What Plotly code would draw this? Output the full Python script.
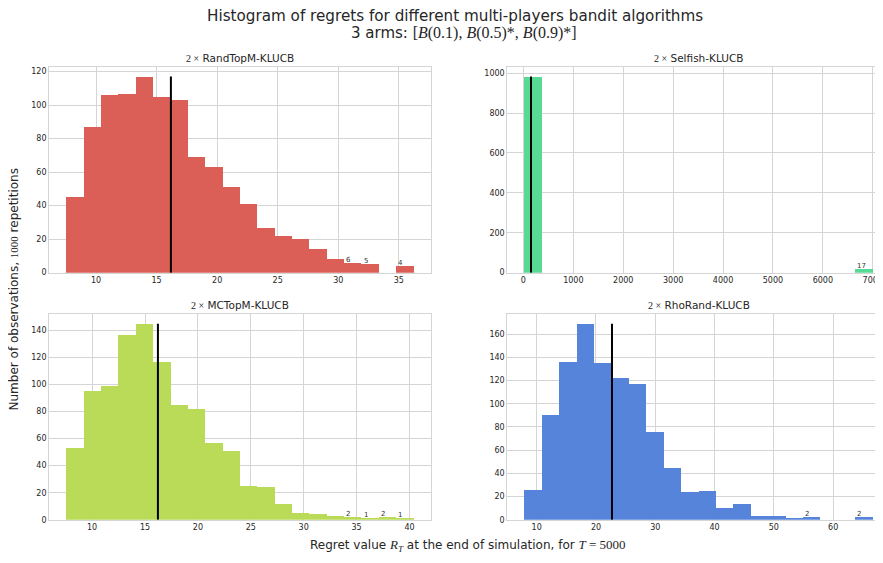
import plotly.graph_objects as go

# ---- data (20-bin histograms, 1000 repetitions) ----
algorithms = ["RandTopM-KLUCB", "Selfish-KLUCB", "MCTopM-KLUCB", "RhoRand-KLUCB"]
colors = ["#db5f57", "#57db94", "#b9db57", "#5784db"]

randtopm_counts = [45, 87, 106, 107, 117, 105, 103, 69, 63, 51, 41, 27, 22, 20, 14, 8, 6, 5, 0, 4]
randtopm_start, randtopm_width = 7.56, 1.4335
randtopm_mean = 16.18

selfish_counts = [983, 0, 0, 0, 0, 0, 0, 0, 0, 0, 0, 0, 0, 0, 0, 0, 0, 0, 0, 17]
selfish_start, selfish_width = 26.0, 348.85
selfish_mean = 152.0

mctopm_counts = [53, 95, 99, 137, 145, 117, 85, 82, 57, 51, 25, 24, 12, 5, 4, 3, 2, 1, 2, 1]
mctopm_start, mctopm_width = 7.58, 1.641
mctopm_mean = 16.22

rhorand_counts = [26, 90, 136, 169, 135, 122, 117, 76, 45, 24, 25, 10, 14, 3, 3, 1, 2, 0, 0, 2]
rhorand_start, rhorand_width = 7.98, 2.936
rhorand_mean = 22.7

panels = [
    (randtopm_counts, randtopm_start, randtopm_width, randtopm_mean),
    (selfish_counts, selfish_start, selfish_width, selfish_mean),
    (mctopm_counts, mctopm_start, mctopm_width, mctopm_mean),
    (rhorand_counts, rhorand_start, rhorand_width, rhorand_mean),
]
x_dticks = [5, 1000, 5, 10]
y_dticks = [20, 200, 20, 20]

W, H = 883, 563
OFF = 8  # page body margin compensation
MATH = "Liberation Serif"
# pixel boxes in window coordinates (left, right_full, top, bottom)
boxes = [
    (49.3, 432.5, 67.3, 275.0),
    (509.0, 893.3, 67.3, 275.0),
    (49.3, 432.5, 316.7, 524.3),
    (509.0, 893.3, 316.7, 524.3),
]


def px(x):
    return (x - OFF) / W


def py(y):
    return 1 - (y - OFF) / H


fig = go.Figure()
GRID = "#d5d5d5"
TICKC = "#262626"
FONT = "DejaVu Sans"

for i, ((counts, start, width, mean), box) in enumerate(zip(panels, boxes)):
    n = i + 1
    xa = "x" if n == 1 else f"x{n}"
    ya = "y" if n == 1 else f"y{n}"
    edges = [start + k * width for k in range(len(counts) + 1)]
    centers = [(edges[k] + edges[k + 1]) / 2 for k in range(len(counts))]
    fig.add_trace(go.Bar(x=centers, y=counts, width=[width] * len(counts),
                         marker=dict(color=colors[i], line=dict(width=0)),
                         xaxis=xa, yaxis=ya, showlegend=False))
    top = max(counts)
    fig.add_trace(go.Scatter(x=[mean, mean], y=[0, top], mode="lines",
                             line=dict(color="black", width=2),
                             xaxis=xa, yaxis=ya, showlegend=False))
    # small count labels on the last bins
    for k in range(len(counts) - 4, len(counts)):
        if counts[k] > 0:
            fig.add_annotation(x=edges[k], y=counts[k], xref=xa, yref=ya,
                               text=str(counts[k]), showarrow=False,
                               xanchor="left", yanchor="middle", yshift=3, xshift=0,
                               font=dict(family=FONT, size=7, color="#333333"))
    span = edges[-1] - edges[0]
    lo, hi = edges[0] - 0.05 * span, edges[-1] + 0.05 * span
    l, r, t, b = box
    r_vis = min(r, W)
    hi_vis = lo + (hi - lo) * (r_vis - l) / (r - l)
    axis_common = dict(showgrid=True, gridcolor=GRID, gridwidth=1,
                       showline=True, linecolor=GRID, linewidth=1, mirror=True,
                       zeroline=False, ticks="", ticklabeloverflow="allow",
                       tickfont=dict(family=FONT, size=8, color=TICKC))
    fig.layout[("xaxis" if n == 1 else f"xaxis{n}")] = dict(
        domain=[px(l), min(px(r_vis), 1.0)], range=[lo, hi_vis], anchor=ya,
        tick0=0, dtick=x_dticks[i], **axis_common)
    fig.layout[("yaxis" if n == 1 else f"yaxis{n}")] = dict(
        domain=[py(b), py(t)], range=[0, top * 1.05], anchor=xa,
        tick0=0, dtick=y_dticks[i], **axis_common)
    # subplot title
    fig.add_annotation(x=px((l + r) / 2), y=py(t - 9), xref="paper", yref="paper",
                       text=f"<span style='font-family:{MATH};font-size:10px'>2 \u00d7</span> " + algorithms[i],
                       showarrow=False, xanchor="center", yanchor="middle",
                       font=dict(family=FONT, size=10.5, color=TICKC))

# figure titles and axis labels
fig.add_annotation(x=px(457), y=py(16.5), xref="paper", yref="paper",
                   text="Histogram of regrets for different multi-players bandit algorithms",
                   showarrow=False, xanchor="center", yanchor="middle", borderpad=0,
                   font=dict(family=FONT, size=15.2, color=TICKC))
fig.add_annotation(x=px(466), y=py(33.5), xref="paper", yref="paper",
                   text=f"3 arms: <span style='font-family:{MATH};font-size:16px'>[<i>B</i>(0.1), <i>B</i>(0.5)*, <i>B</i>(0.9)*]</span>",
                   showarrow=False, xanchor="center", yanchor="middle", borderpad=0,
                   font=dict(family=FONT, size=15, color=TICKC))
fig.add_annotation(x=px(470), y=py(550), xref="paper", yref="paper",
                   text=f"Regret value <span style='font-family:{MATH};font-size:13px'><i>R<sub>T</sub></i></span> at the end of simulation, for <span style='font-family:{MATH};font-size:13px'><i>T</i> = 5000</span>",
                   showarrow=False, xanchor="center", yanchor="middle",
                   font=dict(family=FONT, size=12, color=TICKC))
fig.add_annotation(x=px(14), y=py(292), xref="paper", yref="paper",
                   text=f"Number of observations, <span style='font-family:{MATH};font-size:11px'>1000</span> repetitions",
                   showarrow=False, xanchor="center", yanchor="middle", textangle=-90,
                   font=dict(family=FONT, size=12, color=TICKC))

fig.update_layout(width=W, height=H, autosize=False,
                  margin=dict(l=0, r=0, t=0, b=0),
                  paper_bgcolor="white", plot_bgcolor="white",
                  bargap=0, barmode="overlay")

fig.write_html("out.html")
